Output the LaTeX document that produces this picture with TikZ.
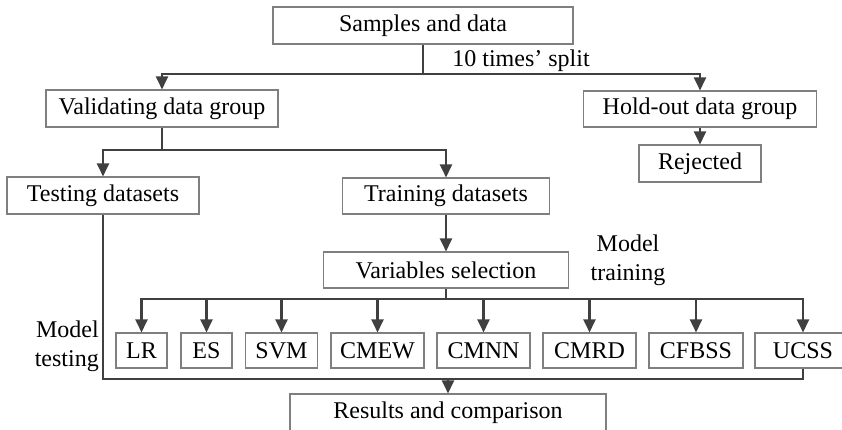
\documentclass[tikz,border=0pt]{standalone}
\usepackage{fontspec}
\setmainfont{Liberation Serif}
\usetikzlibrary{arrows.meta}
\definecolor{boxline}{HTML}{7F7F7F}
\definecolor{linkline}{HTML}{404040}
\tikzset{
  box/.style={draw=boxline, line width=1.1pt, inner sep=0pt, minimum height=#1, font=\fontsize{24}{29}\selectfont},
  box/.default=36pt,
  conn/.style={draw=linkline, line width=2.2pt},
  arr/.style={conn, -{Triangle[length=13pt,width=12pt]}},
  lbl/.style={inner sep=0pt, font=\fontsize{24}{29}\selectfont}
}
\begin{document}
\begin{tikzpicture}[x=1pt,y=-1pt]
\clip (0,0) rectangle (842,429);
\fill[white] (0,0) rectangle (842,429);

% top level
\node[box=37pt, minimum width=300pt] (samples) at (423,25.5) {Samples and data};
\node[box=37pt, minimum width=232pt] (valid) at (162,108.5) {Validating data group};
\node[box, minimum width=233pt] (hold) at (700,109) {Hold-out data group};
\node[box=37pt, minimum width=122pt] (rej) at (700,163.5) {Rejected};
\node[lbl] (split) at (521,61) {10 times’ split};

% second level
\node[box=37pt, minimum width=192pt] (test) at (103,195.5) {Testing datasets};
\node[box, minimum width=207pt] (train) at (446,196) {Training datasets};
\node[box, minimum width=245pt] (vars) at (446,270) {Variables selection};
\node[lbl, align=center] (mtrain) at (628,260) {Model\\training};
\node[lbl, align=right, anchor=east] (mtest) at (99,346) {Model\\testing};

% models
\foreach \nm/\cx/\w in {LR/141.5/51, ES/206.5/51, SVM/281.5/72, CMEW/377.5/93,
                        CMNN/483.5/93, CMRD/589.5/93, CFBSS/696/94, UCSS/803/96}
  \node[box=35pt, minimum width=\w pt] (\nm) at (\cx,350.5) {\nm};

\node[box=37pt, minimum width=316pt] (res) at (448,412.5) {Results and comparison};

% connectors
\coordinate (ssplit) at (423,74);
\draw[conn] (samples.south) -- (ssplit);
\draw[arr] (ssplit) -| (valid.north);
\draw[arr] (ssplit) -| (hold.north);
\draw[arr] (hold.south) -- (rej.north);

\coordinate (vsplit) at (162,150);
\draw[conn] (valid.south) -- (vsplit);
\draw[arr] (vsplit) -| (test.north);
\draw[arr] (vsplit) -| (train.north);
\draw[arr] (train.south) -- (vars.north);

\coordinate (msplit) at (446,299);
\draw[conn] (vars.south) -- (msplit);
\foreach \nm in {LR,ES,SVM,CMEW,CMNN,CMRD,CFBSS,UCSS}
  \draw[arr] (msplit) -| (\nm.north);

\coordinate (mbot) at (803,379);
\draw[conn] (test.south) |- (mbot) -- (UCSS.south);
\draw[arr] (res.north |- mbot) -- (res.north);
\end{tikzpicture}
\end{document}
